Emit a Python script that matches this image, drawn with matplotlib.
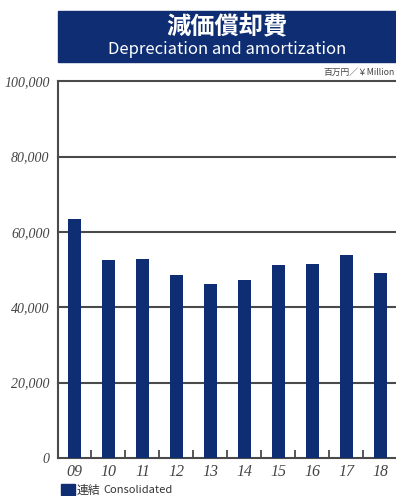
import matplotlib.pyplot as plt
from matplotlib.patches import Rectangle

years = ['09', '10', '11', '12', '13', '14', '15', '16', '17', '18']
consolidated = [63400, 52600, 52800, 48600, 46200, 47300, 51200, 51500, 53900, 49100]
yticks = [0, 20000, 40000, 60000, 80000, 100000]
ytick_labels = ['0', '20,000', '40,000', '60,000', '80,000', '100,000']

navy = '#0e2d72'
grey = '#4a4a4a'
jp = ['Noto Sans CJK JP', 'DejaVu Sans']
num_font = dict(family='Liberation Serif', style='italic', color='#444444')

W, H = 396, 496
fig = plt.figure(figsize=(W / 100, H / 100), dpi=100)

# title banner
fig.patches.append(Rectangle((58 / W, 1 - 62 / H), (W - 58) / W, 51 / H,
                             transform=fig.transFigure, color=navy, zorder=0))
fig.text(227 / W, 1 - 26 / H, '減価償却費', family=jp, fontsize=17.5, fontweight='bold',
         color='white', ha='center', va='center')
fig.text(227 / W, 1 - 49 / H, 'Depreciation and amortization', family=jp, fontsize=12,
         color='white', ha='center', va='center')
fig.text(395 / W, 1 - 72 / H, '百万円／￥Million', family=jp, fontsize=6.3,
         color='#444444', ha='right', va='center')

ax = fig.add_axes([58 / W, 1 - 458 / H, (W - 58) / W, (458 - 81.3) / H])
x = list(range(len(years)))
ax.bar(x, consolidated, width=0.38, color=navy, zorder=3)

ax.set_ylim(0, 100000)
ax.set_xlim(-0.485, 9.456)
ax.set_yticks(yticks)
ax.set_yticklabels(ytick_labels, **num_font, fontsize=10)
ax.set_xticks(x)
ax.set_xticklabels(years, **num_font, fontsize=11.5)
ax.set_xticks([i + 0.5 for i in range(len(years) - 1)], minor=True)
ax.tick_params(axis='y', length=0, pad=6)
ax.tick_params(axis='x', which='major', length=0, pad=4)
ax.tick_params(axis='x', which='minor', direction='in', length=6, width=1.3, color=grey)

for y in yticks[1:]:
    ax.axhline(y, color=grey, lw=1.5, zorder=2, clip_on=False)
for s in ['top', 'right']:
    ax.spines[s].set_visible(False)
for s in ['left', 'bottom']:
    ax.spines[s].set_color(grey)
    ax.spines[s].set_linewidth(1.5)

# legend
fig.patches.append(Rectangle((61 / W, 1 - 495 / H), 14 / W, 11 / H,
                             transform=fig.transFigure, color=navy))
fig.text(77 / W, 1 - 490 / H, '連結', family=jp, fontsize=8.5, color='#333333',
         ha='left', va='center')
fig.text(103 / W, 1 - 490 / H, 'Consolidated', family=jp, fontsize=8, color='#333333',
         ha='left', va='center')

fig.savefig('out.png', dpi=100)
